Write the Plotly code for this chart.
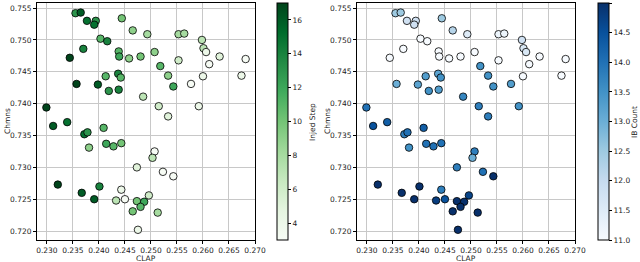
import plotly.graph_objects as go

clap = [0.2355, 0.2365, 0.2377, 0.2394, 0.2391, 0.2444, 0.2465, 0.2493, 0.2553, 0.2564,
        0.2403, 0.2416, 0.2598, 0.2370, 0.2438, 0.2439, 0.2344, 0.2458, 0.2480, 0.2507,
        0.2553, 0.2601, 0.2606, 0.2632, 0.2612, 0.2682, 0.2518, 0.2533, 0.2543, 0.2577,
        0.2600, 0.2674, 0.2437, 0.2442, 0.2413, 0.2357, 0.2398, 0.2419, 0.2438, 0.2485,
        0.2515, 0.2533, 0.2592, 0.2299, 0.2312, 0.2339, 0.2409, 0.2372, 0.2378, 0.2381,
        0.2414, 0.2428, 0.2443, 0.2507, 0.2503, 0.2473, 0.2523, 0.2543, 0.2321, 0.2367,
        0.2391, 0.2401, 0.2443, 0.2450, 0.2433, 0.2473, 0.2487, 0.2496, 0.2480, 0.2465,
        0.2513, 0.2475]
chmns = [0.7542, 0.7543, 0.7530, 0.7530, 0.7524, 0.7534, 0.7515, 0.7509, 0.7509, 0.7510,
         0.7502, 0.7498, 0.7500, 0.7486, 0.7482, 0.7474, 0.7472, 0.7471, 0.7474, 0.7481,
         0.7468, 0.7487, 0.7481, 0.7474, 0.7462, 0.7470, 0.7459, 0.7444, 0.7427, 0.7431,
         0.7443, 0.7444, 0.7447, 0.7441, 0.7443, 0.7431, 0.7430, 0.7420, 0.7422, 0.7411,
         0.7396, 0.7380, 0.7396, 0.7394, 0.7365, 0.7371, 0.7362, 0.7352, 0.7355, 0.7331,
         0.7337, 0.7333, 0.7338, 0.7325, 0.7315, 0.7300, 0.7293, 0.7286, 0.7273, 0.7260,
         0.7250, 0.7270, 0.7265, 0.7250, 0.7248, 0.7247, 0.7246, 0.7256, 0.7238, 0.7231,
         0.7229, 0.7202]
injected_step = [13, 16, 15, 13, 15, 10, 9, 8, 8, 8,
                 11, 14, 7, 14, 11, 12, 17, 9, 10, 9,
                 6, 7, 4, 5, 3, 3, 11, 9, 12, 3,
                 4, 4, 14, 11, 11, 17, 16, 13, 14, 7,
                 6, 5, 4, 17, 16, 15, 11, 15, 13, 9,
                 12, 11, 10, 3, 7, 5, 3, 3, 17, 16,
                 16, 14, 4, 3, 7, 10, 12, 6, 11, 10,
                 8, 4]
ib_count = [12.5, 12.5, 11.8, 11.8, 11.8, 12.5, 12.2, 11.5, 11.2, 11.2,
            11.0, 11.0, 11.8, 11.0, 11.0, 11.0, 11.0, 11.0, 11.0, 11.0,
            11.0, 11.6, 11.6, 11.0, 11.0, 11.0, 13.5, 13.5, 13.5, 13.3,
            11.0, 11.0, 13.2, 13.5, 13.3, 13.0, 13.2, 13.5, 13.3, 13.7,
            13.8, 13.8, 13.5, 14.0, 14.5, 14.3, 14.3, 13.8, 14.0, 13.5,
            14.0, 14.0, 14.0, 13.8, 13.0, 13.8, 14.0, 15.0, 15.0, 15.0,
            15.0, 15.0, 13.8, 14.5, 14.8, 15.0, 15.0, 14.7, 15.0, 15.0,
            15.0, 15.0]

x_ticks = [0.230, 0.235, 0.240, 0.245, 0.250, 0.255, 0.260, 0.265, 0.270]
y_ticks = [0.720, 0.725, 0.730, 0.735, 0.740, 0.745, 0.750, 0.755]
inj_ticks = [4, 6, 8, 10, 12, 14, 16]
ib_ticks = [11.0, 11.5, 12.0, 12.5, 13.0, 13.5, 14.0, 14.5, 15.0]

greens = ["#f7fcf5", "#e5f5e0", "#c7e9c0", "#a1d99b", "#74c476", "#41ab5d", "#238b45", "#006d2c", "#00441b"]
blues = ["#f7fbff", "#deebf7", "#c6dbef", "#9ecae1", "#6baed6", "#4292c6", "#2171b5", "#08519c", "#08306b"]

def scale(cols):
    n = len(cols) - 1
    return [[i / n, c] for i, c in enumerate(cols)]

W, H = 640, 262
font = dict(family="DejaVu Sans", size=7.5, color="#222")

fig = go.Figure()

y0 = (H - 240) / H
y1 = (H - 3) / H

def cbar(xpx, tickvals, fmt=None):
    d = dict(x=xpx / W, xanchor="left", y=y0, yanchor="bottom",
             len=y1 - y0, lenmode="fraction", thickness=11, thicknessmode="pixels",
             outlinecolor="black", outlinewidth=1,
             tickvals=tickvals, ticks="outside", ticklen=3, tickcolor="black",
             tickfont=font, xpad=0, ypad=0)
    if fmt:
        d["tickformat"] = fmt
    return d

fig.add_trace(go.Scatter(
    x=clap, y=chmns, mode="markers", xaxis="x", yaxis="y",
    marker=dict(size=7.5, color=injected_step, colorscale=scale(greens), cmin=3, cmax=17,
                line=dict(color="black", width=0.8),
                colorbar=cbar(277, inj_ticks)),
    showlegend=False))

fig.add_trace(go.Scatter(
    x=clap, y=chmns, mode="markers", xaxis="x2", yaxis="y2",
    marker=dict(size=7.5, color=ib_count, colorscale=scale(blues), cmin=11, cmax=15,
                line=dict(color="black", width=0.8),
                colorbar=cbar(598, ib_ticks, ".1f")),
    showlegend=False))

def xax(domain, anchor):
    return dict(domain=domain, anchor=anchor, range=[0.2281, 0.2700], tickvals=x_ticks,
                tickformat=".3f", tickangle=0, showgrid=True, gridcolor="#c8c8c8", gridwidth=1,
                zeroline=False, showline=True, linecolor="black", linewidth=1, mirror=True,
                ticks="outside", ticklen=3, tickcolor="black", tickfont=font)

def yax(domain, anchor):
    return dict(domain=domain, anchor=anchor, range=[0.7186, 0.7558], tickvals=y_ticks,
                tickformat=".3f", showgrid=True, gridcolor="#c8c8c8", gridwidth=1,
                zeroline=False, showline=True, linecolor="black", linewidth=1, mirror=True,
                ticks="outside", ticklen=3, tickcolor="black", tickfont=font)

def label(text, xpx, ypx, angle=0):
    return dict(text=text, x=xpx / W, y=(H - ypx) / H, xref="paper", yref="paper",
                xanchor="center", yanchor="middle", showarrow=False, font=font,
                textangle=angle, borderpad=0)

annotations = [
    label("CLAP", (37 + 255) / 2, 258),
    label("CLAP", (357 + 575) / 2, 258),
    label("Chmns", 7, 121, -90),
    label("Chmns", 327, 121, -90),
    label("Injed Step", 312, 122, -90),
    label("IB Count", 634, 122, -90),
]

fig.update_layout(
    width=W, height=H,
    margin=dict(l=0, r=0, t=0, b=0, autoexpand=False),
    paper_bgcolor="white", plot_bgcolor="white",
    font=font,
    xaxis=xax([37 / W, 255 / W], "y"),
    yaxis=yax([y0, y1], "x"),
    xaxis2=xax([357 / W, 575 / W], "y2"),
    yaxis2=yax([y0, y1], "x2"),
    annotations=annotations,
)

fig.write_html("out.html", config={"displayModeBar": False},
               post_script="document.body.style.margin='0';document.body.style.overflow='hidden';")
